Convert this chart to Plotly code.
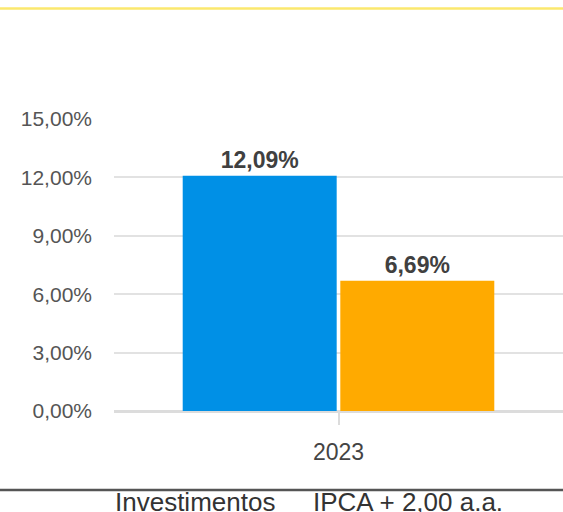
import plotly.graph_objects as go

# ---- data ----
categories = ["2023"]
series_names = ["Investimentos", "IPCA + 2,00 a.a."]
investimentos = [12.09]
ipca = [6.69]
series_colors = ["#0090e6", "#ffaa00"]
y_ticks = [0, 3, 6, 9, 12, 15]
y_tick_labels = ["0,00%", "3,00%", "6,00%", "9,00%", "12,00%", "15,00%"]

W, H = 563, 512
L, R, T, B = 114, 0, 119, 101
plot_h = H - T - B


def py(pix):
    """pixel y (from top) -> paper y"""
    return (H - B - pix) / plot_h


FONT = "Arial, Liberation Sans, sans-serif"

fig = go.Figure()
for name, vals, col in zip(series_names, [investimentos, ipca], series_colors):
    fig.add_trace(go.Bar(
        x=categories, y=vals, name=name,
        marker=dict(color=col, line=dict(width=0)),
        texttemplate="%{y:.2f}%", textposition="outside",
        textfont=dict(family=FONT, size=23, color="#404040", weight="bold"),
        cliponaxis=False,
        showlegend=False,
    ))

fig.update_layout(
    width=W, height=H,
    margin=dict(l=L, r=R, t=T, b=B),
    paper_bgcolor="white", plot_bgcolor="white",
    separators=",.",
    barmode="group", bargap=0.298, bargroupgap=0.023,
    font=dict(family=FONT),
)
fig.update_yaxes(
    range=[0, 15], tickmode="array", tickvals=y_ticks, ticktext=y_tick_labels,
    showgrid=True, gridcolor="#e2e2e2", gridwidth=2,
    zeroline=True, zerolinecolor="#dcdcdc", zerolinewidth=3,
    tickfont=dict(family=FONT, size=21, color="#555555"),
    ticks="", ticklabelstandoff=21, showline=False,
)
fig.update_xaxes(
    type="category", showgrid=False,
    ticks="outside", ticklen=13, tickwidth=2, tickcolor="#dcdcdc",
    tickfont=dict(family=FONT, size=23, color="#444444"),
    ticklabelstandoff=7,
    showline=False,
)

# decorative lines
fig.add_shape(type="line", xref="paper", yref="paper",
              x0=-L / (W - L - R), x1=1, y0=py(8.5), y1=py(8.5),
              line=dict(color="#fbe86e", width=2.5))
fig.add_shape(type="line", xref="paper", yref="paper",
              x0=-L / (W - L - R), x1=1, y0=py(490), y1=py(490),
              line=dict(color="#555555", width=2.5))

# legend texts
legend_x_px = [114, 312]
for name, xp in zip(series_names, legend_x_px):
    fig.add_annotation(
        text=name, xref="paper", yref="paper",
        x=(xp - L) / (W - L - R), y=py(486),
        xanchor="left", yanchor="top", showarrow=False,
        font=dict(family=FONT, size=26, color="#333333"),
        borderpad=0,
    )

fig.write_html("out.html")
